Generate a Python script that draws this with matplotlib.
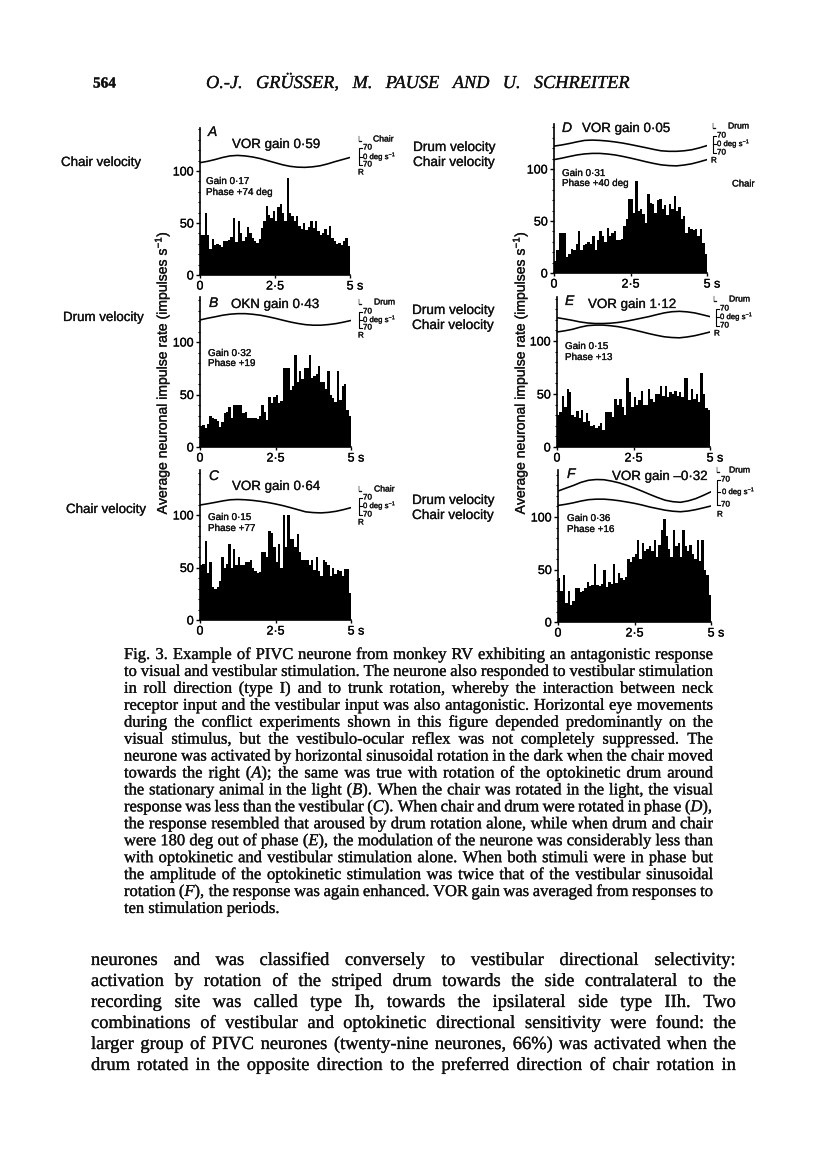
#! /usr/bin/python3
# -*- coding:utf-8 -*-

import matplotlib
matplotlib.use('Agg')
import matplotlib.pyplot as plt
from matplotlib.ticker import MultipleLocator
from matplotlib.transforms import ScaledTranslation
from matplotlib.patheffects import withStroke
import numpy as np

W, H = 816, 1173
SANS = 'Liberation Sans'
SERIF = 'Liberation Serif'
INK = '#111111'

plt.rcParams['font.family'] = SANS
plt.rcParams['mathtext.fontset'] = 'custom'
plt.rcParams['mathtext.rm'] = SANS
plt.rcParams['mathtext.it'] = SERIF + ':italic'
plt.rcParams['mathtext.default'] = 'regular'

# histograms, impulses/s, 64 bins over 5 s
hist_a = [38, 38, 60, 38, 25, 35, 29, 30, 29, 27, 33, 33, 34, 37, 55, 32,
          52, 40, 33, 37, 46, 40, 36, 33, 31, 35, 45, 52, 66, 58, 55, 62,
          52, 65, 68, 60, 52, 93, 60, 57, 52, 57, 47, 44, 50, 43, 46, 52,
          45, 52, 42, 38, 40, 44, 38, 47, 36, 33, 30, 31, 29, 33, 36, 28]
hist_b = [20, 21, 18, 22, 30, 28, 27, 25, 19, 24, 32, 33, 38, 28, 40, 40,
          40, 40, 32, 33, 28, 28, 28, 28, 27, 30, 40, 33, 26, 48, 42, 48,
          50, 42, 44, 75, 75, 75, 54, 58, 88, 62, 72, 65, 75, 75, 88, 66,
          68, 70, 77, 62, 62, 55, 72, 50, 47, 43, 72, 45, 58, 60, 35, 30]
hist_c = [52, 53, 75, 45, 55, 31, 30, 31, 37, 60, 50, 53, 72, 50, 68, 52,
          60, 52, 52, 55, 55, 57, 50, 47, 45, 46, 65, 65, 60, 85, 83, 70,
          55, 72, 50, 100, 70, 100, 77, 77, 70, 82, 65, 57, 57, 57, 52, 57,
          48, 60, 47, 42, 57, 55, 52, 42, 50, 44, 48, 47, 42, 49, 49, 26]
hist_d = [12, 22, 38, 38, 38, 15, 18, 23, 22, 28, 40, 22, 27, 28, 30, 28,
          36, 22, 32, 40, 36, 30, 43, 36, 38, 40, 32, 32, 33, 45, 52, 71,
          71, 58, 88, 60, 62, 57, 48, 76, 67, 66, 58, 70, 71, 62, 65, 56,
          66, 62, 74, 60, 63, 52, 55, 38, 44, 42, 41, 42, 36, 42, 29, 18]
hist_e = [30, 33, 48, 38, 55, 52, 30, 28, 34, 27, 35, 24, 32, 25, 20, 21,
          18, 20, 23, 16, 33, 33, 33, 28, 45, 40, 45, 38, 30, 65, 52, 38,
          47, 40, 44, 53, 40, 40, 55, 45, 42, 50, 50, 58, 48, 58, 47, 52,
          50, 53, 48, 52, 47, 65, 65, 44, 55, 45, 50, 42, 70, 50, 37, 35]
hist_f = [42, 30, 45, 18, 30, 16, 20, 32, 32, 29, 30, 32, 38, 34, 35, 55,
          35, 34, 36, 50, 33, 38, 36, 55, 37, 47, 42, 40, 43, 60, 57, 62,
          65, 78, 60, 75, 68, 70, 72, 68, 78, 62, 73, 88, 98, 82, 70, 62,
          88, 72, 75, 62, 88, 72, 68, 73, 65, 60, 78, 58, 78, 50, 45, 26]

# stimulus traces, read every 0.25 s on the rate scale
trace_t = [0, 0.25, 0.5, 0.75, 1, 1.25, 1.5, 1.75, 2, 2.25, 2.5,
           2.75, 3, 3.25, 3.5, 3.75, 4, 4.25, 4.5, 4.75, 5]
trace_a = [108, 109.3, 111, 113, 114.5, 115, 114.5, 113.5, 112, 110, 108,
           106, 104.5, 103.7, 103.5, 104, 105, 106.8, 109, 111, 113]
trace_b = [121, 122.6, 124, 125.5, 126.5, 127, 127, 126.4, 125.5, 124.1, 122.5,
           120.7, 119, 117.6, 116.5, 116, 116, 116.6, 117.5, 118.9, 120.5]
trace_c = [109.5, 110.7, 112, 113.4, 114.5, 114.8, 114.5, 113.9, 113, 111.9, 110.5,
           108.9, 107, 105, 103, 102.3, 102, 102.5, 103.5, 105.1, 107]
trace_d1 = [122, 123.1, 124.5, 126.1, 127.5, 127.8, 127.5, 126.9, 126, 124.9, 123.5,
            122, 120.5, 118.9, 117.5, 117, 117, 117.5, 118.5, 120.3, 122.5]
trace_d2 = [109, 110.4, 112, 113.5, 114.5, 115, 115, 114.4, 113.5, 112.1, 110.5,
            108.8, 107, 105.4, 104, 103.3, 103, 103.8, 105, 106.9, 109]
trace_e1 = [122, 120.8, 119.5, 118, 117, 116.5, 116.5, 116.8, 117.5, 118.6, 120,
            121.5, 123, 124.8, 126.5, 127.6, 128, 127.5, 126.5, 124.8, 123]
trace_e2 = [108.5, 109.6, 111, 113, 114.5, 115, 115, 114.4, 113.5, 112.1, 110.5,
            108.8, 107, 105.4, 104, 103.3, 103, 103.8, 105, 106.7, 108.5]
trace_f1 = [124.7, 127.4, 130, 133, 135, 135.7, 135.5, 134.2, 132.5, 130.2, 127.5,
            124.6, 121.5, 118.6, 116, 114.6, 114, 115.3, 117.5, 120.6, 124]
trace_f2 = [111, 112.1, 113.5, 115.2, 116.5, 117, 117, 116.4, 115.5, 114.3, 113,
            111.4, 109.5, 108, 106.5, 105.5, 105, 105.7, 107, 108.7, 110.5]

caption_lines = [
    'Fig. 3. Example of PIVC neurone from monkey RV exhibiting an antagonistic response',
    'to visual and vestibular stimulation. The neurone also responded to vestibular stimulation',
    'in roll direction (type I) and to trunk rotation, whereby the interaction between neck',
    'receptor input and the vestibular input was also antagonistic. Horizontal eye movements',
    'during the conflict experiments shown in this figure depended predominantly on the',
    'visual stimulus, but the vestibulo-ocular reflex was not completely suppressed. The',
    'neurone was activated by horizontal sinusoidal rotation in the dark when the chair moved',
    r'towards the right ($\mathit{A}$); the same was true with rotation of the optokinetic drum around',
    r'the stationary animal in the light ($\mathit{B}$). When the chair was rotated in the light, the visual',
    r'response was less than the vestibular ($\mathit{C}$). When chair and drum were rotated in phase ($\mathit{D}$),',
    'the response resembled that aroused by drum rotation alone, while when drum and chair',
    r'were 180 deg out of phase ($\mathit{E}$), the modulation of the neurone was considerably less than',
    'with optokinetic and vestibular stimulation alone. When both stimuli were in phase but',
    'the amplitude of the optokinetic stimulation was twice that of the vestibular sinusoidal',
    r'rotation ($\mathit{F}$), the response was again enhanced. VOR gain was averaged from responses to',
    'ten stimulation periods.',
]
body_lines = [
    'neurones and was classified conversely to vestibular directional selectivity:',
    'activation by rotation of the striped drum towards the side contralateral to the',
    'recording site was called type Ih, towards the ipsilateral side type IIh. Two',
    'combinations of vestibular and optokinetic directional sensitivity were found: the',
    'larger group of PIVC neurones (twenty-nine neurones, 66%) was activated when the',
    'drum rotated in the opposite direction to the preferred direction of chair rotation in',
]
header_title = 'O.-J. GRÜSSER, M. PAUSE AND U. SCHREITER'
ylabel_text = 'Average neuronal impulse rate (impulses s$^{-1}$)'

fig = plt.figure(figsize=(W / 100, H / 100), dpi=100, facecolor='white')
page = fig.add_axes([0, 0, 1, 1])
page.set_xlim(0, W)
page.set_ylim(H, 0)
page.axis('off')
renderer = fig.canvas.get_renderer()
heavy = [withStroke(linewidth=0.2, foreground=INK)]


def put(x, y, s, size=8, ha='left', va='center', **kw):
    return page.text(x, y, s, fontsize=size, ha=ha, va=va, color=INK, path_effects=heavy, **kw)


def justified(left, right, y, line, size, spread=True, **kw):
    """spreads the words of one line between the two margins, y is the baseline"""
    items = [put(left, y, w, size, va='baseline', family=SERIF, **kw) for w in line.split(' ')]
    widths = [t.get_window_extent(renderer).width for t in items]
    gap = (right - left - sum(widths)) / (len(items) - 1) if spread else size * 0.35
    x = left
    for t, w in zip(items, widths):
        t.set_x(x)
        x += w + gap


def panel(x0, x5, y0, y100, top, hist, traces):
    """histogram with the stimulus traces, pixel box from the page"""
    y_max = (y0 - top) * 100.0 / (y0 - y100)
    ax = fig.add_axes([x0 / W, 1 - y0 / H, (x5 - x0) / W, (y0 - top) / H])
    ax.set_xlim(0, 5)
    ax.set_ylim(0, y_max)
    ax.patch.set_alpha(0)
    edges = np.arange(len(hist)) * 5.0 / len(hist)
    ax.bar(edges, hist, width=5.0 / len(hist), align='edge', color='black', linewidth=0)
    for tr in traces:
        ax.plot(trace_t, tr, color='black', linewidth=1.15)
    for side in ['top', 'right']:
        ax.spines[side].set_visible(False)
    ax.spines['left'].set_linewidth(1.2)
    ax.spines['bottom'].set_linewidth(1.2)
    ax.yaxis.set_major_locator(MultipleLocator(50))
    ax.yaxis.set_minor_locator(MultipleLocator(10))
    ax.set_yticks([0, 50, 100])
    ax.set_yticklabels(['0', '50', '100'], fontsize=9, path_effects=heavy)
    ax.set_xticks([0, 2.5, 5])
    ax.set_xticklabels(['0', '2·5', '5 s'], fontsize=9, path_effects=heavy)
    ax.tick_params(axis='y', which='major', length=3, width=1, pad=1.5)
    ax.tick_params(axis='y', which='minor', length=1.5, width=0.8)
    ax.tick_params(axis='x', length=2, width=1, pad=2)
    lab = ax.get_xticklabels()[2]
    lab.set_transform(lab.get_transform() + ScaledTranslation(0.05, 0, fig.dpi_scale_trans))
    return ax


def scale_key(xl, x70, name_x, name, yl, y70a, y0d, y70b, yr, xr=None, xzero=None):
    """L / 70 / 0 deg s-1 / 70 / R key to the right of a panel"""
    put(xl, yl, 'L', 5.8)
    put(name_x, yl - 1, name, 6.2)
    put(x70, y70a, '70', 5.8)
    put(xzero if xzero else x70, y0d, '0 deg s$^{-1}$', 5.6)
    put(x70, y70b, '70', 5.8)
    put(xr if xr else xl, yr, 'R', 5.8)
    bx = x70 - 4
    page.plot([bx + 3, bx, bx, bx + 3], [y70a, y70a, y70b, y70b], color='black', lw=0.8)
    page.plot([bx, bx + 3], [y0d, y0d], color='black', lw=0.8)


def notes(letter_xy, title, title_xy, gain_lines, gain_x, gain_ys):
    put(letter_xy[0], letter_xy[1], title[0], 10, style='italic')
    put(title_xy[0], title_xy[1], title[1], 9.6)
    for s, y in zip(gain_lines, gain_ys):
        put(gain_x, y, s, 7.1)


panel(200, 350, 275, 171, 128, hist_a, [trace_a])
panel(200, 351, 447, 342, 297, hist_b, [trace_b])
panel(200, 351, 620, 515, 470, hist_c, [trace_c])
panel(554, 707, 273, 169, 124, hist_d, [trace_d1, trace_d2])
panel(557, 710, 447, 341, 297, hist_e, [trace_e1, trace_e2])
panel(558, 711, 622, 517, 470, hist_f, [trace_f1, trace_f2])

notes((208, 132), ('A', 'VOR gain 0·59'), (232, 145), ['Gain 0·17', 'Phase +74 deg'], 206, [181, 192])
notes((209, 303), ('B', 'OKN gain 0·43'), (231, 305), ['Gain 0·32', 'Phase +19'], 208, [353, 363])
notes((209, 476), ('C', 'VOR gain 0·64'), (232, 487), ['Gain 0·15', 'Phase +77'], 208, [517, 528])
notes((562, 128), ('D', 'VOR gain 0·05'), (582, 129), ['Gain 0·31', 'Phase +40 deg'], 562, [173, 183])
notes((565, 301), ('E', 'VOR gain 1·12'), (588, 305), ['Gain 0·15', 'Phase +13'], 565, [346, 357])
notes((567, 474), ('F', 'VOR gain –0·32'), (612, 477), ['Gain 0·36', 'Phase +16'], 567, [518, 529])

scale_key(358, 363, 373, 'Chair', 140, 148, 157, 165, 173)
scale_key(358, 363, 374, 'Drum', 303, 312, 320, 328, 336)
scale_key(358, 363, 374, 'Chair', 490, 498, 506, 515, 523)
scale_key(712, 717, 728, 'Drum', 127, 136, 144, 153, 161, xr=711)
scale_key(713, 720, 729, 'Drum', 300, 309, 317, 326, 334, xr=714)
scale_key(716, 721, 729, 'Drum', 471, 480, 492, 505, 515, xr=717, xzero=722)

put(61, 163, 'Chair velocity', 9.6)
put(63, 318, 'Drum velocity', 9.6)
put(66, 510, 'Chair velocity', 9.6)
put(413, 147, 'Drum velocity', 9.8)
put(413, 162, 'Chair velocity', 9.8)
put(412, 310, 'Drum velocity', 9.8)
put(412, 325, 'Chair velocity', 9.8)
put(412, 500, 'Drum velocity', 9.8)
put(412, 515, 'Chair velocity', 9.8)
put(732, 184, 'Chair', 6.8)

put(162, 373, ylabel_text, 10.1, ha='center', rotation=90)
put(520, 373, ylabel_text, 10.1, ha='center', rotation=90)

put(93, 84, '564', 11, family=SERIF, weight='bold')
justified(206, 630, 88, header_title, 13.2, style='italic')

for i, line in enumerate(caption_lines):
    y = 659 + i * 16.93
    if i == len(caption_lines) - 1:
        justified(124, 713, y, line, 11.9, spread=False)
    else:
        justified(124, 713, y, line, 11.9)

for i, line in enumerate(body_lines):
    justified(91, 736, 965 + i * 21, line, 13.3)

fig.savefig('out.png', dpi=100, facecolor='white')
